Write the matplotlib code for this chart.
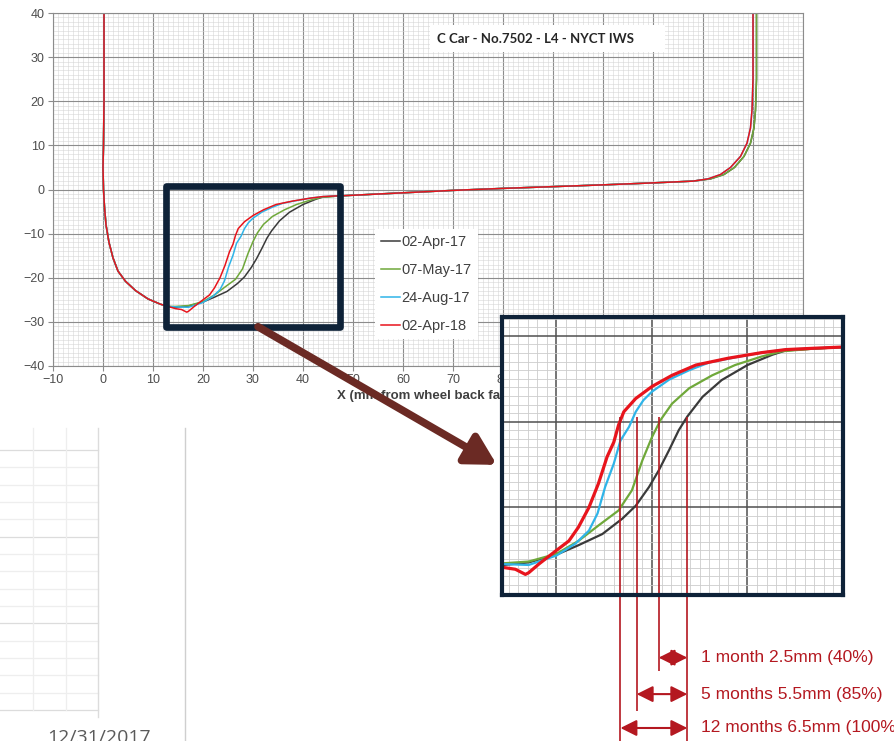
import matplotlib
matplotlib.use('Agg')
import matplotlib.pyplot as plt
from matplotlib.patches import Rectangle
import numpy as np

# wheel profile, x = mm from wheel back face, y = mm
# flange back, same for all dates
flange_x = [0.2, 0.2, 0.1, 0.0, 0.1, 0.3, 0.6, 1.2, 2.0, 3.0, 4.5, 6.5, 9.0, 11.5, 13.0]
flange_y = [40, 20, 10, 5, 0, -4, -8, -12, -15.5, -18.5, -20.8, -22.9, -24.8, -26.0, -26.5]

# flange root / throat, per measurement date
apr17_x = [14.5, 17.1, 20.0, 22.3, 24.8, 26.9, 28.3, 29.7, 30.7, 31.8, 32.8, 33.7, 35.3, 37.3, 40.0, 42.6, 44.0, 46.8]
apr17_y = [-26.7, -26.4, -25.5, -24.4, -23.1, -21.3, -19.8, -17.6, -15.7, -13.3, -11.0, -9.4, -7.1, -5.15, -3.4, -2.2, -1.7, -1.5]
may17_x = [14.5, 17.1, 20.0, 22.3, 24.4, 26.5, 27.9, 29.0, 30.0, 30.9, 32.1, 33.9, 36.3, 38.7, 41.5, 43.6, 46.8]
may17_y = [-26.5, -26.3, -25.4, -23.9, -22.1, -20.35, -18.0, -14.5, -11.8, -9.8, -7.9, -6.1, -4.6, -3.4, -2.4, -1.8, -1.5]
aug17_x = [14.5, 17.1, 20.0, 22.0, 23.4, 24.3, 25.1, 26.0, 26.7, 27.6, 28.3, 29.1, 30.0, 31.8, 33.9, 36.0, 38.5, 41.5, 44.0, 46.8]
aug17_y = [-26.6, -26.7, -25.6, -24.2, -22.7, -20.7, -17.6, -14.9, -12.2, -10.6, -8.85, -7.5, -6.5, -5.1, -4.0, -3.1, -2.55, -1.95, -1.6, -1.45]
apr18_x = [14.5, 15.7, 16.75, 17.1, 18.15, 20.0, 21.3, 22.3, 23.4, 24.4, 25.3, 26.0, 26.5, 27.05, 28.3, 30.0, 32.1, 34.6, 38.0, 41.5, 44.0, 46.8]
apr18_y = [-27.0, -27.2, -27.8, -27.6, -26.6, -25.0, -23.9, -22.3, -20.0, -17.2, -14.1, -12.4, -10.4, -8.85, -7.3, -5.9, -4.6, -3.4, -2.6, -1.95, -1.6, -1.45]

# tread, same for all dates
tread_x = [50, 60, 70, 80, 90, 100, 110]
tread_y = [-1.3, -0.75, -0.2, 0.25, 0.65, 1.05, 1.5]

# field side
heel_y = [1.9, 2.4, 3.4, 5.0, 7.5, 10.5, 14, 18, 25, 40]
heel_x_orig = [118, 121.5, 124.2, 126.3, 128.2, 129.5, 130.2, 130.5, 130.7, 130.7]
heel_x_worn = [118, 121, 123.5, 125.5, 127.5, 128.8, 129.5, 129.8, 130.0, 130.0]

labels = ['02-Apr-17', '07-May-17', '24-Aug-17', '02-Apr-18']
colors = ['#3a3a3a', '#6fa83a', '#2fb4e8', '#e8141c']
mid_x = [apr17_x, may17_x, aug17_x, apr18_x]
mid_y = [apr17_y, may17_y, aug17_y, apr18_y]
heel_x = [heel_x_orig, heel_x_orig, heel_x_worn, heel_x_worn]

# wear markers in the zoom
gauge_y = -9.4
wear_x = [26.7, 28.4, 30.7, 33.7]           # 02-Apr-18, 24-Aug-17, 07-May-17, 02-Apr-17
wear_bottom = [-48, -43.7, -39.1, -48]
wear_y = [-37.5, -41.75, -45.7]
wear_from = [30.7, 28.4, 26.7]
wear_text = ['1 month 2.5mm (40%)', '5 months 5.5mm (85%)', '12 months 6.5mm (100%)']

W, H = 895, 741
fig = plt.figure(figsize=(W / 100, H / 100), dpi=100)

# spreadsheet showing through at the bottom left
bg = fig.add_axes([0, 0, 1, 1], zorder=-1)
bg.set_xlim(0, W)
bg.set_ylim(H, 0)
bg.axis('off')
rows = np.linspace(450, 710, 16)
for i, r in enumerate(rows):
    bg.plot([0, 98], [r, r], color='#dcdcdc' if i % 5 == 0 else '#eeeeee', lw=0.9)
for c in [33, 66]:
    bg.plot([c, c], [428, 710], color='#eeeeee', lw=0.9)
bg.plot([98, 98], [428, 717], color='#dcdcdc', lw=1)
bg.plot([185, 185], [428, H], color='#cfcfcf', lw=1)
bg.text(47, 729, '12/31/2017', family='Open Sans', fontsize=14, color='#5a5a5a', va='top')

series = []
for i in range(4):
    xs = flange_x + mid_x[i] + tread_x + heel_x[i]
    ys = flange_y + mid_y[i] + tread_y + heel_y
    series.append((xs, ys))

# main chart
ax = fig.add_axes([53 / W, 1 - 366 / H, 750 / W, 353 / H])
ax.set_xlim(-10, 140)
ax.set_ylim(-40, 40)
ax.set_xticks(np.arange(-10, 141, 10))
ax.set_yticks(np.arange(-40, 41, 10))
ax.set_xticks(np.arange(-10, 141, 1), minor=True)
ax.set_yticks(np.arange(-40, 41, 1), minor=True)
ax.grid(which='major', color='#8c8c8c', lw=0.8)
ax.grid(which='minor', color='#d6d6d6', lw=0.4)
ax.set_axisbelow(True)
ax.tick_params(which='major', length=3.5, width=0.8, color='#8c8c8c', labelsize=9,
               labelcolor='#4d4d4d', pad=2.5)
ax.tick_params(which='minor', length=0)
for lab in ax.get_xticklabels() + ax.get_yticklabels():
    lab.set_family('Liberation Sans')
for s in ax.spines.values():
    s.set_color('#8c8c8c')
    s.set_linewidth(0.8)

for (xs, ys), lab, col in zip(series, labels, colors):
    ax.plot(xs, ys, color=col, lw=1.1, label=lab)

ax.set_xlabel('X (mm from wheel back face)', family='Liberation Sans', fontsize=9.5,
              fontweight='bold', color='#404040', labelpad=3)

leg = ax.legend(loc='center left', bbox_to_anchor=(0.43, 0.232), frameon=True,
                fancybox=False, framealpha=1, edgecolor='none', borderaxespad=0,
                handlelength=1.3, handletextpad=0.1, labelspacing=0.95,
                prop={'family': 'Liberation Sans', 'size': 10.5})
for t in leg.get_texts():
    t.set_color('#404040')

ax.add_patch(Rectangle((65.4, 31.1), 47, 6.2, fc='white', ec='none', zorder=2))
ax.text(66.8, 34.2, 'C Car - No.7502 - L4 - NYCT IWS', family='Lato', fontweight='bold',
        fontsize=9.5, color='#262626', va='center', zorder=3)

navy = '#0e2238'
ax.add_patch(Rectangle((12.5, -31.1), 34.9, 32.0, fill=False, ec=navy, lw=4.8,
                       joinstyle='round', zorder=6, clip_on=False))

# zoomed view
ins = fig.add_axes([502 / W, 1 - 595 / H, 341 / W, 278 / H])
ins.set_xlim(14.3, 50)
ins.set_ylim(-30.2, 2.2)
ins.set_xticks(np.arange(20, 50, 10))
ins.set_yticks(np.arange(-20, 1, 10))
ins.set_xticks(np.arange(15, 50, 1), minor=True)
ins.set_yticks(np.arange(-30, 3, 1), minor=True)
ins.grid(which='major', color='#505050', lw=1.1)
ins.grid(which='minor', color='#cccccc', lw=0.6)
ins.set_axisbelow(True)
ins.tick_params(which='both', length=0, labelbottom=False, labelleft=False)
for s in ins.spines.values():
    s.set_color(navy)
    s.set_linewidth(3)
for (xs, ys), col in zip(series, colors):
    ins.plot(xs, ys, color=col, lw=2.3 if col == '#e8141c' else 1.6)

red = '#b41820'
vl = ins.vlines(wear_x, gauge_y, wear_bottom, color=red, lw=1.2)
vl.set_clip_on(False)
for x0, yy, txt in zip(wear_from, wear_y, wear_text):
    ins.annotate('', xy=(x0, yy), xytext=(wear_x[-1], yy),
                 arrowprops=dict(arrowstyle='<|-|>,head_length=0.7,head_width=0.35',
                                 mutation_scale=14, color=red, lw=1.5,
                                 shrinkA=0, shrinkB=0),
                 annotation_clip=False)
    ins.text(35.1, yy, txt, family='Liberation Sans', fontsize=12.5, color=red,
             va='center', clip_on=False)

# pointer from the box to the zoomed view
ax.annotate('', xy=(-0.015, 0.468), xycoords=ins.transAxes, xytext=(31, -31.1),
            textcoords='data',
            arrowprops=dict(arrowstyle='-|>,head_length=0.9,head_width=0.5',
                            mutation_scale=20, lw=5.5, color='#6b2a24',
                            shrinkA=0, shrinkB=0),
            annotation_clip=False, zorder=10)

fig.savefig('out.png', dpi=100)
